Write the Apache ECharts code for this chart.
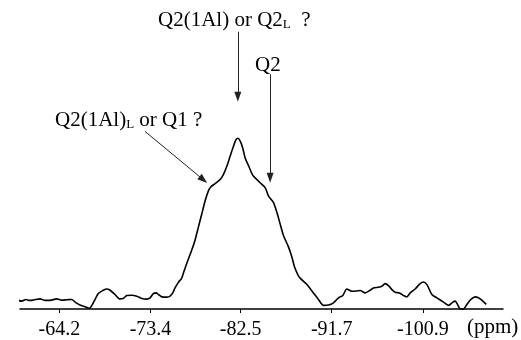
<!DOCTYPE html>
<html><head><meta charset="utf-8">
<script src="https://cdn.jsdelivr.net/npm/echarts@6/dist/echarts.min.js"></script>
<style>html,body{margin:0;padding:0;background:#fff}#c{width:521px;height:340px}</style>
</head><body><div id="c"></div>
<script>
// chemical shift (ppm) and intensity (arbitrary units)
const ppm = [-59.42,-59.55,-60.06,-60.40,-60.84,-61.17,-61.57,-62.25,-62.76,-63.26,-63.94,-64.44,-64.95,-65.45,-65.79,-66.29,-66.80,-67.23,-67.63,-68.14,-68.64,-68.99,-69.32,-69.82,-70.26,-70.66,-71.01,-71.51,-72.02,-72.52,-73.03,-73.36,-73.69,-73.97,-74.20,-74.54,-75.05,-75.38,-75.65,-75.88,-76.22,-76.56,-76.72,-77.07,-77.57,-77.90,-78.24,-78.58,-78.92,-79.25,-79.49,-79.92,-80.43,-80.76,-81.11,-81.44,-81.77,-82.02,-82.22,-82.45,-82.72,-82.96,-83.29,-83.73,-84.14,-84.47,-84.98,-85.31,-85.81,-86.16,-86.49,-86.82,-87.33,-87.67,-87.93,-88.28,-88.51,-89.18,-89.85,-90.36,-90.86,-91.37,-91.87,-92.38,-92.82,-93.22,-93.73,-94.23,-94.57,-95.07,-95.58,-95.91,-96.42,-96.76,-97.09,-97.43,-97.77,-98.10,-98.54,-98.94,-99.28,-99.62,-100.12,-100.63,-100.96,-101.31,-101.81,-102.32,-102.98,-103.49,-103.93,-104.16,-104.40,-104.67,-105.00,-105.35,-105.75,-106.19,-106.69,-107.30];
const intensity = [12.3,13.7,9,8,9.7,8.7,9,10.3,8.7,8.7,10.3,9,9.3,9.7,7,4,2.3,0.7,6.3,15.7,19,20.3,19,14.7,10.3,10.7,13.7,14,13,10.7,10,11.3,15.7,16.3,14.7,12.3,12,13,16.3,21.3,27,31.3,36.3,46.3,59.7,69.7,83,96.3,109.7,119.7,123.7,127,131.3,136.3,144.7,154.7,164.7,171.3,173,170.3,163,153,145.5,135.5,131.3,128,123,114.7,108,98,86.3,74.7,63,53,43,34.7,31.3,25,16.3,9.7,3.7,4,6.3,11.3,13.7,20.3,18,18.3,18.7,16.3,19,21.3,22,23,25.7,23.7,19.7,17,16.3,13.7,12.3,16.3,20.3,25.7,27.3,24.7,14.7,11.3,7,3.7,7,8,4.7,0,0,4.7,9.7,12.3,10.3,4.7];
const tickValues = [-64.2,-73.4,-82.5,-91.7,-100.9];
const axisUnit = '(ppm)';
// annotation arrows: [tail ppm, tail intensity] -> [head ppm, head intensity]
const arrowTails = [[-82.22,281],[-85.48,238],[-72.85,180]];
const arrowHeads = [[-82.22,215],[-85.48,133],[-78.74,131]];
const labelTexts = ['Q2(1Al) or Q2{sub|L}  ?','Q2','Q2(1Al){sub|L} or Q1 ?'];

const font = '"Liberation Serif","DejaVu Serif",serif';
const chart = echarts.init(document.getElementById('c'), null, {renderer:'canvas'});
const labelPos = [[158,10],[255,55],[55,110]];
chart.setOption({
  animation:false,
  backgroundColor:'#fff',
  grid:{left:20,right:18,top:13,bottom:27},
  xAxis:{type:'value',inverse:true,min:-108.99,max:-60.23,
    axisLine:{lineStyle:{color:'#000',width:1.5}},
    axisTick:{show:true,length:4,lineStyle:{color:'#000',width:1},customValues:tickValues},
    axisLabel:{color:'#000',fontFamily:font,fontSize:20,margin:11,customValues:tickValues,formatter:v=>v.toFixed(1)},
    splitLine:{show:false}},
  yAxis:{type:'value',min:0,max:300,show:false},
  series:[{type:'line',data:ppm.map((p,i)=>[p,intensity[i]]),showSymbol:false,smooth:0.25,clip:false,
    lineStyle:{color:'#000',width:1.6},
    markLine:{silent:true,symbol:['none','triangle'],symbolSize:[7,10],label:{show:false},
      lineStyle:{color:'#222',width:1,type:'solid'},
      data:arrowTails.map((t,i)=>[{coord:t},{coord:arrowHeads[i]}])}}],
  graphic:labelTexts.map((t,i)=>({type:'text',left:labelPos[i][0],top:labelPos[i][1],
      style:{text:t,fill:'#000',font:'21px '+font,
        rich:{sub:{fontSize:13,fontFamily:font,fill:'#000',padding:[8,0,0,0]}}}}))
    .concat([{type:'text',left:467,top:317,style:{text:axisUnit,fill:'#000',font:'21px '+font}}])
});
</script></body></html>
